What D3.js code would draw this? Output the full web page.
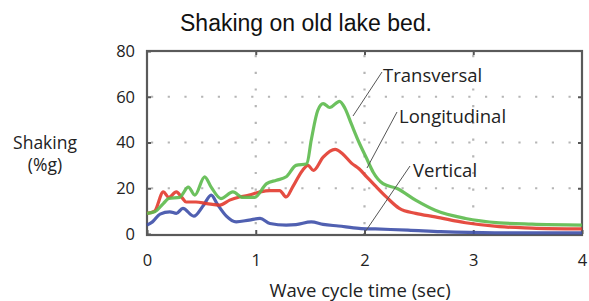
<!DOCTYPE html>
<html><head><meta charset="utf-8">
<script src="https://cdn.jsdelivr.net/npm/d3@7"></script>
<style>body{margin:0;background:#fff}</style>
</head><body>
<svg id="c" width="589" height="301"></svg>
<script>
const transTime = [0,0.07,0.15,0.2,0.3,0.38,0.44,0.53,0.59,0.68,0.79,0.88,0.99,1.1,1.19,1.28,1.37,1.47,1.51,1.57,1.62,1.68,1.77,1.82,1.88,1.95,2.02,2.08,2.17,2.3,2.47,2.65,2.93,3.24,3.54,4.0];
const transVal  = [9,9.7,13.3,15.5,16,20.5,17,25,20.5,15.5,18.4,16,16,22,23.5,25,30,30.7,41,54,57,55.3,58,55,48,40,33,27,22,19.9,14.8,10.4,6.8,4.9,4.3,3.9];
const longTime = [0,0.07,0.15,0.2,0.27,0.32,0.36,0.45,0.55,0.67,0.76,0.85,0.94,1.04,1.13,1.22,1.28,1.34,1.43,1.48,1.53,1.62,1.73,1.8,1.88,1.95,2.02,2.1,2.2,2.32,2.47,2.65,2.93,3.24,3.54,4.0];
const longVal  = [9,10,18.4,16,18.4,16,14,14,13.3,12.6,14.8,16.2,17,18.4,19,19,16.2,20.6,27.8,30,27.8,33.6,37,35,31,28.5,25,21,16.2,11.2,9,7.5,4.9,3.2,2.6,2.2];
const vertTime = [0,0.05,0.12,0.21,0.27,0.33,0.43,0.52,0.59,0.65,0.73,0.82,0.94,1.04,1.13,1.28,1.37,1.51,1.62,1.76,1.95,2.1,2.4,2.7,3.2,4.0];
const vertVal  = [3.9,5.3,8.7,9.7,9,11.2,7.8,12.6,17,12.8,7.8,5.3,6.1,6.8,4.6,3.9,4.1,5.3,4.2,3.5,2.5,2.2,1.7,1,0.5,0.5];
const xTicks = [0,1,2,3,4];
const yTicks = [0,20,40,60,80];
const gridX = [1,2,3];
const gridY = [20,40,60];
const seriesNames = ["Transversal","Longitudinal","Vertical"];

const FONT = "Open Sans, Noto Sans, sans-serif";
const svg = d3.select("#c");
const x = d3.scaleLinear().domain([0,4]).range([147,582]);
const y = d3.scaleLinear().domain([0,80]).range([234,51]);

svg.append("text").attr("x",306).attr("y",31).attr("text-anchor","middle")
  .attr("font-family","Liberation Sans, Arial, sans-serif").attr("font-size",23).attr("fill","#111")
  .text("Shaking on old lake bed.");

// grid
const g = svg.append("g");
g.selectAll(".gy").data(gridY).join("line")
  .attr("x1",x(0)+4).attr("x2",x(4)).attr("y1",d=>y(d)).attr("y2",d=>y(d))
  .attr("stroke","#b5b5b5").attr("stroke-width",2.2).attr("stroke-dasharray","2.2,14.5");
g.selectAll(".gx").data(gridX).join("line")
  .attr("y1",y(80)+4).attr("y2",y(0)).attr("x1",d=>x(d)).attr("x2",d=>x(d))
  .attr("stroke","#b5b5b5").attr("stroke-width",2.2).attr("stroke-dasharray","2.2,14.5");

// axes (inward ticks on all sides)
const xa = svg.append("g").attr("transform",`translate(0,${y(0)})`)
  .call(d3.axisBottom(x).tickValues(xTicks).tickSize(-4).tickPadding(20).tickFormat(d3.format("d")));
const ya = svg.append("g").attr("transform",`translate(${x(0)},0)`)
  .call(d3.axisLeft(y).tickValues(yTicks).tickSize(-4).tickPadding(12).tickFormat(d3.format("d")));
const xt = svg.append("g").attr("transform",`translate(0,${y(80)})`)
  .call(d3.axisTop(x).tickValues(gridX).tickSize(-4).tickFormat(""));
const yr = svg.append("g").attr("transform",`translate(${x(4)},0)`)
  .call(d3.axisRight(y).tickValues(gridY).tickSize(-4).tickFormat(""));
[xa,ya,xt,yr].forEach(a=>{
  a.select(".domain").remove();
  a.selectAll("line").attr("stroke","#555").attr("stroke-width",2);
  a.selectAll("text").attr("font-family",FONT).attr("font-size",16.5).attr("fill","#222");
});

// frame
svg.append("rect").attr("x",x(0)).attr("y",y(80)).attr("width",x(4)-x(0)).attr("height",y(0)-y(80)+1)
  .attr("fill","none").attr("stroke","#5a5a5a").attr("stroke-width",2.2);

const line = d3.line().x(d=>x(d[0])).y(d=>y(d[1])).curve(d3.curveMonotoneX);
const series = [
  {t:vertTime, v:vertVal, c:"#3d4fa8"},
  {t:longTime, v:longVal, c:"#e23a2e"},
  {t:transTime, v:transVal, c:"#5cba4c"}
];
series.forEach(s=>{
  svg.append("path").datum(s.t.map((t,i)=>[t,s.v[i]])).attr("d",line)
    .attr("fill","none").attr("stroke",s.c).attr("stroke-width",3.2).attr("stroke-linejoin","round").attr("stroke-opacity",0.9);
});

// annotations
const ann = [
  {name:seriesNames[0], tx:383, ty:82, lx1:382, ly1:72, lx2:353, ly2:116},
  {name:seriesNames[1], tx:399, ty:123, lx1:397, ly1:112, lx2:367, ly2:168},
  {name:seriesNames[2], tx:413, ty:177, lx1:410, ly1:166, lx2:363, ly2:235}
];
ann.forEach(a=>{
  svg.append("line").attr("x1",a.lx1).attr("y1",a.ly1).attr("x2",a.lx2).attr("y2",a.ly2)
    .attr("stroke","#555").attr("stroke-width",1);
  svg.append("text").attr("x",a.tx).attr("y",a.ty).attr("font-family",FONT)
    .attr("font-size",18.5).attr("fill","#222").text(a.name);
});

svg.append("text").attr("x",45).attr("y",149).attr("text-anchor","middle")
  .attr("font-family",FONT).attr("font-size",17.5).attr("fill","#222").text("Shaking");
svg.append("text").attr("x",45).attr("y",171).attr("text-anchor","middle")
  .attr("font-family",FONT).attr("font-size",17.5).attr("fill","#222").text("(%g)");
svg.append("text").attr("x",360).attr("y",297).attr("text-anchor","middle")
  .attr("font-family",FONT).attr("font-size",18.5).attr("fill","#222").text("Wave cycle time (sec)");
</script>
</body></html>
